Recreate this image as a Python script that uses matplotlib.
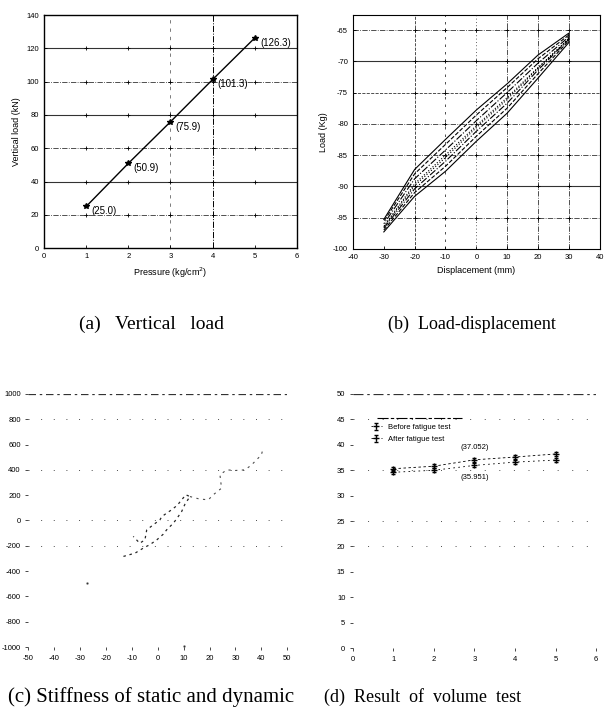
import matplotlib.pyplot as plt
import numpy as np

# (a) vertical load
pressure = [1, 2, 3, 4, 5]
vload = [25.0, 50.9, 75.9, 101.3, 126.3]
vload_lbl = ["(25.0)", "(50.9)", "(75.9)", "(101.3)", "(126.3)"]

# (b) load-displacement loops (upper / lower branch)
disp = [-30, -20, -10, 0, 10, 20, 30]
loops_up = [[-95.3, -87.3, -82.5, -77.8, -73.6, -69.0, -65.5],
            [-95.6, -88.0, -83.3, -78.6, -74.2, -69.6, -65.8],
            [-96.0, -88.8, -84.2, -79.5, -75.0, -70.3, -66.1],
            [-96.4, -89.6, -85.0, -80.3, -75.8, -71.0, -66.4]]
loops_lo = [[-97.3, -91.6, -87.6, -82.8, -78.3, -72.7, -67.0],
            [-97.0, -91.0, -86.8, -82.0, -77.5, -72.0, -66.7],
            [-96.7, -90.4, -86.0, -81.2, -76.7, -71.4, -66.5],
            [-96.5, -89.9, -85.4, -80.6, -76.1, -71.1, -66.4]]

# (c) stiffness points
stiff_x = [-13.3, -8.8, -5.6, -3.0, -0.4, 2.0, 3.4, 6.0, 7.5, 9.2, 10.5, 12.4,
           10.8, 9.2, 7.5, 5.3, 3.4, 1.5, 0.8, -1.5, -4.3, -5.0, -7.0, -9.5]
stiff_y = [-284, -258, -218, -190, -153, -110, -74, -21, 20, 71, 130, 189,
           203, 163, 120, 84, 58, 30, 5, -30, -74, -153, -180, -126]
stiff2_x = [12.4, 16.0, 19.5, 21.4, 24.6, 24.0, 26.6, 30.0, 33.7, 36.2, 40.0, 40.7]
stiff2_y = [189, 170, 163, 203, 255, 361, 400, 395, 400, 439, 518, 571]
stray_x = [-27.5, 10.0]
stray_y = [-495, -990]

# (d) volume test
cycle = [1, 2, 3, 4, 5]
before = [34.6, 35.0, 35.951, 36.6, 37.0]
after = [35.3, 35.8, 37.052, 37.6, 38.2]

plt.rcParams['font.family'] = ['Liberation Sans', 'DejaVu Sans']
plt.rcParams['axes.unicode_minus'] = False
fig = plt.figure(figsize=(6.06, 7.17), dpi=100)

tick_kw = dict(labelsize=5.5, length=2, width=0.6, direction='in')

# ---------- (a)
ax = fig.add_axes([0.0726, 0.654, 0.4175, 0.325])
for yv, st in zip([20, 40, 60, 80, 100, 120], ['-.', '-', '-.', '-', '-.', '-']):
    ax.axhline(yv, color='k', ls=st, lw=0.8 if st == '-' else 0.6, alpha=0.8)
ax.axvline(3, color='k', ls=(0, (4, 6)), lw=0.6, alpha=0.6)
ax.axvline(4, color='k', ls='-.', lw=0.7)
gx, gy = np.meshgrid([1, 2, 3, 4, 5], [20, 40, 60, 80, 100, 120])
ax.scatter(gx.ravel(), gy.ravel(), marker='+', s=12, c='k', lw=0.6)
ax.plot(pressure, vload, 'k-', lw=1.0, marker='*', ms=4)
for px, py, t in zip(pressure, vload, vload_lbl):
    ax.text(px + 0.12, py - 3, t, fontsize=7, ha='left', va='center')
ax.set_xlim(0, 6)
ax.set_ylim(0, 140)
ax.set_xticks(range(7))
ax.set_yticks(range(0, 141, 20))
ax.tick_params(**tick_kw)
ax.set_xlabel('Pressure (kg/cm$^2$)', fontsize=6.5)
ax.set_ylabel('Vertical load (kN)', fontsize=6.5)
for s in ax.spines.values():
    s.set_linewidth(1.0)

# ---------- (b)
ax = fig.add_axes([0.5825, 0.653, 0.407, 0.326])
hst = {-65: '-.', -70: '-', -75: '--', -80: '-.', -85: '-.', -90: '-', -95: '-.'}
for yv, st in hst.items():
    ax.axhline(yv, color='k', ls=st, lw=0.8 if st == '-' else 0.6, alpha=0.8)
for xv, st in zip([-20, -10, 0, 10, 20, 30], ['--', (0, (3, 6)), (0, (1, 3)), '-.', '-.', '-.']):
    ax.axvline(xv, color='k', ls=st, lw=0.6, alpha=0.8)
gx, gy = np.meshgrid([-20, -10, 0, 10, 20, 30], list(hst.keys()))
ax.scatter(gx.ravel(), gy.ravel(), marker='+', s=12, c='k', lw=0.6)
loop_st = ['-', '--', '-.', ':']
for up, lo, st in zip(loops_up, loops_lo, loop_st):
    ax.plot(disp + disp[::-1], lo + up[::-1], color='k', ls=st, lw=0.8)
ax.set_xlim(-40, 40)
ax.set_ylim(-100, -62.6)
ax.set_xticks(range(-40, 41, 10))
ax.set_yticks(range(-100, -64, 5))
ax.tick_params(**tick_kw)
ax.set_xlabel('Displacement (mm)', fontsize=6.5)
ax.set_ylabel('Load (Kg)', fontsize=6.5)

# ---------- (c)
ax = fig.add_axes([0.047, 0.0976, 0.427, 0.353])
ax.axhline(1000, color='k', ls=(0, (6, 3, 2, 3)), lw=0.9, alpha=0.8)
for yv in [800, 400, 0, -200]:
    ax.axhline(yv, color='k', ls=(0, (1, 12)), lw=0.7, alpha=0.7)
ax.plot(stiff_x, stiff_y, color='k', ls=(0, (2, 3)), lw=0.9, alpha=0.85)
ax.plot(stiff2_x, stiff2_y, color='k', ls=(0, (2, 4)), lw=0.8, alpha=0.7)
ax.plot(stray_x, stray_y, 'k.', ms=1.5, alpha=0.6)
ax.set_xlim(-50, 50)
ax.set_ylim(-1000, 1000)
ax.set_xticks(range(-50, 51, 10))
ax.set_yticks(range(-1000, 1001, 200))
ax.tick_params(labelsize=5.5, length=2, width=0.5, direction='out', colors='k')
for s in ax.spines.values():
    s.set_visible(False)

# ---------- (d)
ax = fig.add_axes([0.5825, 0.096, 0.401, 0.3545])
ax.axhline(50, color='k', ls=(0, (8, 3, 2, 3)), lw=0.9, alpha=0.8)
for yv in [45, 35, 25, 20]:
    ax.axhline(yv, color='k', ls=(0, (1, 14)), lw=0.7, alpha=0.7)
ax.errorbar(cycle, before, yerr=0.4, color='k', ls=(0, (2, 4)), lw=0.6,
            marker='+', ms=4, capsize=1.5, elinewidth=0.5, label='Before fatigue test')
ax.errorbar(cycle, after, yerr=0.4, color='k', ls=(0, (3, 3)), lw=0.6,
            marker='+', ms=4, capsize=1.5, elinewidth=0.5, label='After fatigue test')
ax.text(3, after[2] + 2.2, '(%.3f)' % after[2], fontsize=5.5, ha='center')
ax.text(3, before[2] - 2.6, '(%.3f)' % before[2], fontsize=5.5, ha='center')
ax.legend(loc='upper left', bbox_to_anchor=(0.06, 0.895), fontsize=5.5,
          frameon=False, handlelength=1.5, borderaxespad=0, labelspacing=0.6)
ax.plot([0.6, 2.7], [45.3, 45.3], color='k', lw=0.8, ls=(0, (10, 2, 3, 2)))
ax.set_xlim(0, 6)
ax.set_ylim(0, 50)
ax.set_xticks(range(7))
ax.set_yticks(range(0, 51, 5))
ax.tick_params(labelsize=5.5, length=2, width=0.5, direction='out')
for s in ax.spines.values():
    s.set_visible(False)

# captions
cap = dict(family='Liberation Serif', ha='center', va='center')
fig.text(0.25, 0.547, '(a)   Vertical   load', fontsize=14, **cap)
fig.text(0.779, 0.547, '(b)  Load-displacement', fontsize=13, **cap)
fig.text(0.25, 0.028, '(c) Stiffness of static and dynamic', fontsize=15, **cap)
fig.text(0.697, 0.028, '(d)  Result  of  volume  test', fontsize=13, **cap)

fig.savefig('out.png', dpi=100)
